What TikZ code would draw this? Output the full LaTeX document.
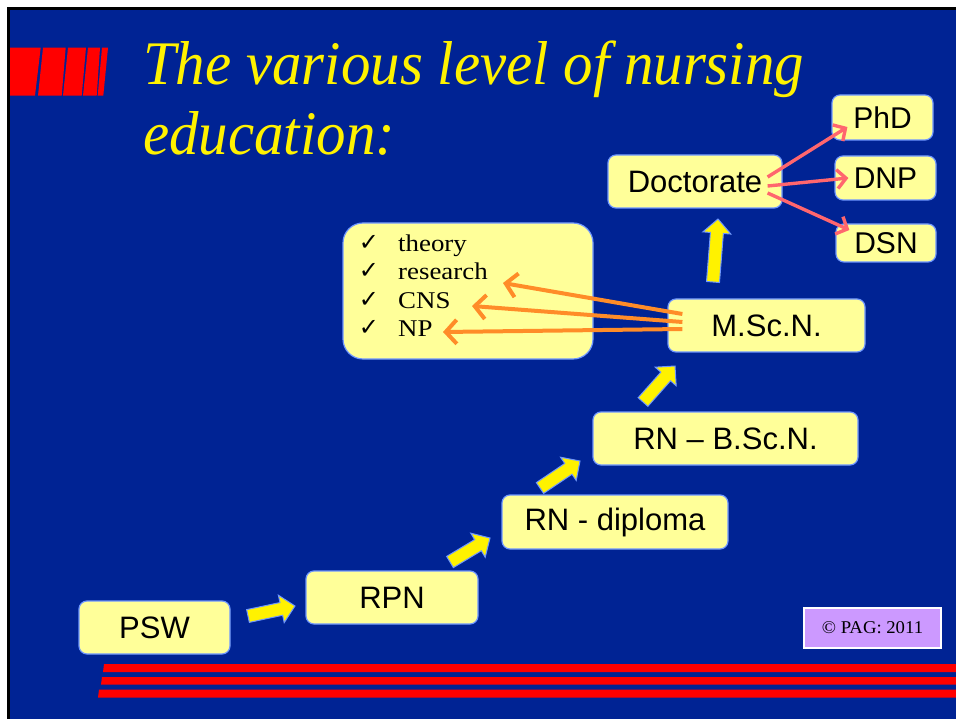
\documentclass[tikz,border=0pt]{standalone}
\usepackage{fontspec}
\setsansfont{Liberation Sans}
\newfontfamily\titlefont{Liberation Serif}[FakeStretch=0.95]
\newfontfamily\listfont{Liberation Serif}[FakeStretch=1.12]
\newfontfamily\copyfont{Liberation Serif}[FakeStretch=1.04]
\newfontfamily\checkfont{DejaVu Sans}
\usetikzlibrary{calc,arrows.meta}
\definecolor{bgblue}{RGB}{0,35,148}
\definecolor{boxfill}{RGB}{255,255,153}
\definecolor{boxline}{RGB}{110,150,255}
\definecolor{orangeln}{RGB}{255,140,40}
\definecolor{pinkln}{RGB}{255,102,110}
\definecolor{lilac}{RGB}{204,153,255}
\definecolor{barred}{RGB}{255,0,0}

% fat block arrow between two named coordinates
\newcommand\bigarrow[2]{%
  \path let \p1=($(#2)-(#1)$) in
    \pgfextra{\pgfmathsetmacro\arrang{atan2(\y1,\x1)}%
              \pgfmathsetmacro\arrlen{veclen(\x1,\y1)}%
              \xdef\Arrang{\arrang}\xdef\Arrlen{\arrlen}};
  \pgfmathsetmacro\Arrneck{\Arrlen-14}%
  \begin{scope}[shift={(#1)},rotate=\Arrang]
    \draw[fatarrow] (0pt,-6.5pt) -- (\Arrneck pt,-6.5pt) -- (\Arrneck pt,-14pt)
      -- (\Arrlen pt,0pt) -- (\Arrneck pt,14pt) -- (\Arrneck pt,6.5pt) -- (0pt,6.5pt) -- cycle;
  \end{scope}}

\begin{document}
\begin{tikzpicture}[x=1pt,y=-1pt,
  level/.style={draw=boxline, line width=1.2pt, fill=boxfill, rounded corners=8pt,
    font=\sffamily\fontsize{31}{36}\selectfont, inner sep=0pt, text=black},
  small/.style={level, font=\sffamily\fontsize{30}{34}\selectfont},
  fatarrow/.style={fill=yellow, draw=boxline, line width=1pt},
  orangearr/.style={draw=orangeln, line width=4pt, -{Straight Barb[length=11pt,width=24pt]}},
  pinkarr/.style={draw=pinkln, line width=3.4pt, -{Straight Barb[length=9pt,width=19pt]}},
  item/.style={font=\listfont\fontsize{24}{28}\selectfont, text=black, inner sep=0pt},
  tick/.style={font=\checkfont\fontsize{24}{28}\selectfont, text=black, inner sep=0pt},
  titletext/.style={anchor=base west, text=yellow, inner sep=0pt, font=\titlefont\itshape\fontsize{62}{68}\selectfont},
  redbar/.style={fill=barred}
]
\useasboundingbox (0,0) rectangle (956,719);
% background and frame
\fill[white] (0,0) rectangle (956,719);
\fill[black] (7,7) rectangle (956,719);
\fill[bgblue] (10,10) rectangle (956,719);

% title bars
\fill[redbar] (10,47.7) -- (40.7,47.7) -- (35,95.7) -- (10,95.7) -- cycle;
\fill[redbar] (43,47.7) -- (65.7,47.7) -- (61.7,95.7) -- (38,95.7) -- cycle;
\fill[redbar] (68,47.7) -- (86,47.7) -- (81.7,95.7) -- (63,95.7) -- cycle;
\fill[redbar] (88,47.7) -- (100,47.7) -- (96.7,95.7) -- (83,95.7) -- cycle;
\fill[redbar] (102,47.7) -- (108,47.7) -- (103.3,95.7) -- (97.7,95.7) -- cycle;

% bottom bars
\fill[redbar] (104,664) -- (956,664) -- (956,672) -- (103,672) -- cycle;
\fill[redbar] (102,677) -- (956,677) -- (956,684.5) -- (101,684.5) -- cycle;
\fill[redbar] (99,689.5) -- (956,689.5) -- (956,697.5) -- (98,697.5) -- cycle;

% title
\node[titletext] (t1) at (143,85) {The various level of nursing};
\node[titletext] (t2) at (143,155) {education:};

% level nodes
\node[level, minimum width=151, minimum height=53] (psw) at (154.5,627.5) {PSW};
\node[level, minimum width=172, minimum height=53] (rpn) at (392,597.5) {RPN};
\node[level, minimum width=226, minimum height=54] (dip) at (615,522) {RN - diploma};
\node[level, minimum width=265, minimum height=53] (bscn) at (725.5,438.5) {RN -- B.Sc.N.};
\node[level, minimum width=197, minimum height=53] (mscn) at (766.5,325.5) {M.Sc.N.};
\node[level, minimum width=174, minimum height=53] (doc) at (695,181.5) {Doctorate};
\node[small, minimum width=101, minimum height=45] (phd) at (882.5,117.5) {PhD};
\node[small, minimum width=101, minimum height=44] (dnp) at (885.5,178) {DNP};
\node[small, minimum width=100, minimum height=38, text depth=0pt] (dsn) at (886,243) {DSN};

% list box
\node[draw=boxline, line width=1.2pt, fill=boxfill, rounded corners=20pt, minimum width=250, minimum height=136] (list) at (468,291) {};
\node[tick, anchor=base] (c1) at (369,251) {✓};
\node[tick, anchor=base] (c2) at (369,279) {✓};
\node[tick, anchor=base] (c3) at (369,308) {✓};
\node[tick, anchor=base] (c4) at (369,336) {✓};
\node[item, anchor=base west] (i1) at (398,252) {theory};
\node[item, anchor=base west] (i2) at (398,280) {research};
\node[item, anchor=base west] (i3) at (398,309) {CNS};
\node[item, anchor=base west] (i4) at (398,337) {NP};

% copyright
\node[draw=white, line width=1.2pt, fill=lilac, minimum width=137, minimum height=40, inner sep=0pt,
  font=\copyfont\fontsize{18}{21}\selectfont] (copy) at (872.5,628) {© PAG: 2011};

% yellow block arrows
\coordinate (a1s) at (248,616); \coordinate (a1e) at (295,606);
\coordinate (a2s) at (450,562); \coordinate (a2e) at (490,538);
\coordinate (a3s) at (540,488); \coordinate (a3e) at (580,461);
\coordinate (a4s) at (643,402); \coordinate (a4e) at (675,366);
\coordinate (a5s) at (713,282); \coordinate (a5e) at (718,219);
\bigarrow{a1s}{a1e}
\bigarrow{a2s}{a2e}
\bigarrow{a3s}{a3e}
\bigarrow{a4s}{a4e}
\bigarrow{a5s}{a5e}

% orange arrows
\coordinate (o1) at ($(mscn.west)+(15,-11.5)$);
\coordinate (o2) at ($(mscn.west)+(15,-3.5)$);
\coordinate (o3) at ($(mscn.west)+(15,3.5)$);
\coordinate (tres) at (503,283);
\coordinate (tcns) at (472,306);
\coordinate (tnp) at (443,332);
\draw[orangearr] (o1) -- (tres);
\draw[orangearr] (o2) -- (tcns);
\draw[orangearr] (o3) -- (tnp);

% pink arrows
\coordinate (p1) at ($(doc.east)+(-15,-4.5)$);
\coordinate (p2) at ($(doc.east)+(-15,4.5)$);
\coordinate (p3) at ($(doc.east)+(-15,11.5)$);
\coordinate (tphd) at ($(phd.west)+(16,9.5)$);
\coordinate (tdnp) at ($(dnp.west)+(14,0)$);
\coordinate (tdsn) at ($(dsn.west)+(14,-13)$);
\draw[pinkarr] (p1) -- (tphd);
\draw[pinkarr] (p2) -- (tdnp);
\draw[pinkarr] (p3) -- (tdsn);
\end{tikzpicture}
\end{document}
